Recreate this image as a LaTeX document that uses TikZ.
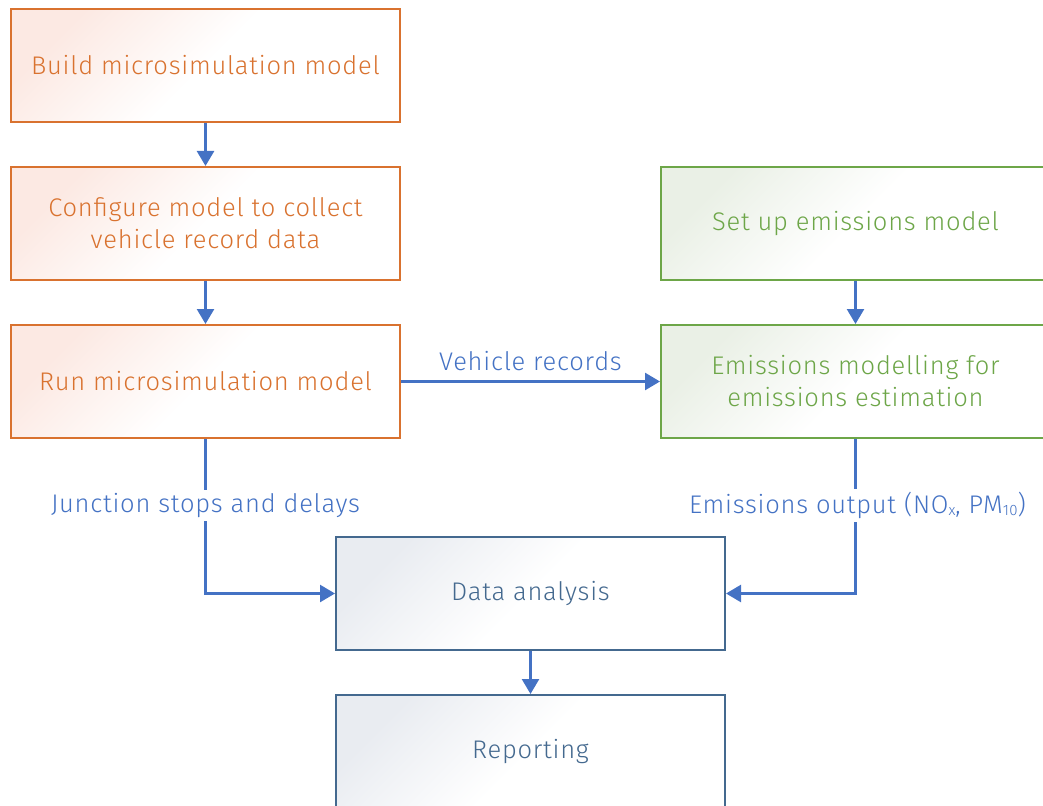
\documentclass[tikz,border=0pt]{standalone}
\usepackage{fontspec}
\setmainfont{Fira Sans Light}[LetterSpace=3]
\usetikzlibrary{arrows.meta}
\definecolor{orng}{HTML}{D9722F}
\definecolor{orngtint}{HTML}{FCE9E3}
\definecolor{grn}{HTML}{6DA648}
\definecolor{grntint}{HTML}{EAF0E6}
\definecolor{bluebox}{HTML}{44698F}
\definecolor{bluetint}{HTML}{E9ECF1}
\definecolor{conn}{HTML}{4472C4}
\newcommand{\sbs}[1]{\raisebox{-2.5pt}{\fontsize{15}{15}\selectfont #1}}
\tikzset{
  x=1pt, y=-1pt,
  boxbase/.style={rectangle, line width=2pt, minimum width=389pt, minimum height=113pt,
     align=center, font=\fontsize{25.5}{32}\selectfont},
  obox/.style={boxbase, draw=orng, text=orng, top color=orngtint, bottom color=white, middle color=white, shading angle=45},
  gbox/.style={boxbase, draw=grn, text=grn, top color=grntint, bottom color=white, middle color=white, shading angle=45},
  bbox/.style={boxbase, draw=bluebox, text=bluebox, top color=bluetint, bottom color=white, middle color=white, shading angle=45},
  conline/.style={draw=conn, line width=2.5pt},
  arr/.style={conline, -{Triangle[length=15pt,width=17pt]}},
  lab/.style={text=conn, font=\fontsize{25.5}{28}\selectfont, fill=white, inner sep=3pt},
}
\begin{document}
\begin{tikzpicture}
\useasboundingbox (0,0) rectangle (1043,805);
\begin{scope}
\clip (0,0) rectangle (1043,805);
\node[obox] (b1) at (205.5,65.5) {Build microsimulation model};
\node[obox] (b2) at (205.5,223.5) {Configure model to collect\\vehicle record data};
\node[obox] (b3) at (205.5,381.5) {Run microsimulation model};
\node[gbox] (g1) at (855.5,223.5) {Set up emissions model};
\node[gbox] (g2) at (855.5,381.5) {Emissions modelling for\\emissions estimation};
\node[bbox] (d1) at (530.5,593.5) {Data analysis};
\node[bbox] (d2) at (530.5,751.5) {Reporting};
\end{scope}
\draw[arr] (b1) -- (b2);
\draw[arr] (b2) -- (b3);
\draw[arr] (g1) -- (g2);
\draw[arr] (d1) -- (d2);
\draw[arr] (b3) -- node[above, lab, fill=none, yshift=6pt] (vr) {Vehicle records} (g2);
\draw[arr] (b3.south) |- node[pos=0.215, lab] (js) {Junction stops and delays} (d1.west);
\draw[arr] (g2.south) |- node[pos=0.215, lab, xshift=2pt] (eo) {Emissions output (NO\sbs{x}, PM\sbs{10})} (d1.east);
\end{tikzpicture}
\end{document}
